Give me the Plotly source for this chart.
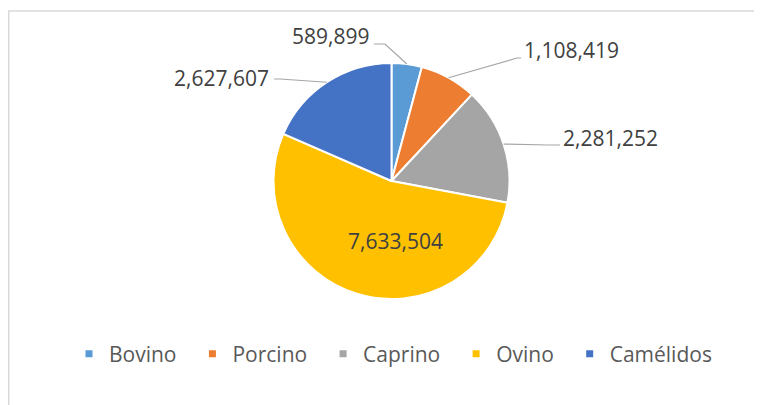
import math
import plotly.graph_objects as go

categories = ["Bovino", "Porcino", "Caprino", "Ovino", "Camélidos"]
values = [589899, 1108419, 2281252, 7633504, 2627607]
colors = ["#5B9BD5", "#ED7D31", "#A5A5A5", "#FFC000", "#4472C4"]

W, H = 762, 405
OFF = 8  # page body margin in the browser
CX, CY, R = 391.5, 181.0, 118.0  # pie center / radius in pixels (page coords)

def px(x):
    return (x - OFF) / W

def py(y):
    return 1 - (y - OFF) / H

fmt = [f"{v:,}" for v in values]
LABEL_FONT = dict(family="Open Sans", size=21, color="#404040")

fig = go.Figure()
fig.add_trace(go.Pie(
    labels=categories, values=values, sort=False, direction="clockwise", rotation=0,
    marker=dict(colors=colors, line=dict(color="white", width=2)),
    textinfo="none", showlegend=False,
    domain=dict(x=[px(CX - R), px(CX + R)], y=[py(CY + R), py(CY - R)]),
    hoverinfo="label+value",
))

# legend entries (small square markers); trailing no-break spaces widen item spacing
for c, col in zip(categories, colors):
    fig.add_trace(go.Scatter(x=[None], y=[None], mode="markers", name=c + "\u00a0\u00a0",
                             marker=dict(symbol="square", size=7, color=col),
                             showlegend=True, hoverinfo="skip"))

total = sum(values)
label_style = {
    0: dict(elbow=(385, 44), end=(374, 44), xanchor="right", dy=-8),
    1: dict(elbow=(517, 58), end=(521, 58), xanchor="left", dy=-8),
    2: dict(elbow=(548, 145), end=(560, 145), xanchor="left", dy=-7),
    4: dict(elbow=(280, 79), end=(274, 79), xanchor="right", dy=-1),
}
shapes = []
annotations = []
cum = 0
for i, v in enumerate(values):
    a0 = cum / total * 360
    cum += v
    a1 = cum / total * 360
    mid = math.radians((a0 + a1) / 2)
    if i == 3:
        annotations.append(dict(xref="paper", yref="paper", x=px(CX + 4), y=py(CY + 60),
                                text=fmt[i], showarrow=False, xanchor="center", yanchor="middle",
                                font=LABEL_FONT))
        continue
    sx = CX + R * math.sin(mid)
    sy = CY - R * math.cos(mid)
    st = label_style[i]
    ex, ey = st["elbow"]
    tx, ty = st["end"]
    shapes.append(dict(type="path", xref="paper", yref="paper",
                       path=f"M {px(sx)},{py(sy)} L {px(ex)},{py(ey)} L {px(tx)},{py(ty)}",
                       line=dict(color="#A6A6A6", width=1.2)))
    annotations.append(dict(xref="paper", yref="paper",
                            x=px(tx + (-3 if st["xanchor"] == "right" else 1)),
                            y=py(ty + st["dy"]), text=fmt[i], showarrow=False,
                            xanchor=st["xanchor"], yanchor="middle", font=LABEL_FONT))

# chart border
shapes.append(dict(type="rect", xref="paper", yref="paper", x0=px(8.75), y0=py(11), x1=1.05, y1=-0.05,
                   line=dict(color="#D9D9D9", width=1.5), fillcolor="rgba(0,0,0,0)"))

fig.update_layout(
    width=W, height=H, margin=dict(l=0, r=0, t=0, b=0),
    paper_bgcolor="white", plot_bgcolor="white",
    xaxis=dict(visible=False), yaxis=dict(visible=False),
    shapes=shapes, annotations=annotations,
    showlegend=True,
    legend=dict(orientation="h", x=px(69), xanchor="left", y=py(354), yanchor="middle",
                font=dict(family="Open Sans", size=21, color="#595959"),
                itemwidth=30, traceorder="normal", bgcolor="rgba(0,0,0,0)"),
)
fig.write_html("out.html")
